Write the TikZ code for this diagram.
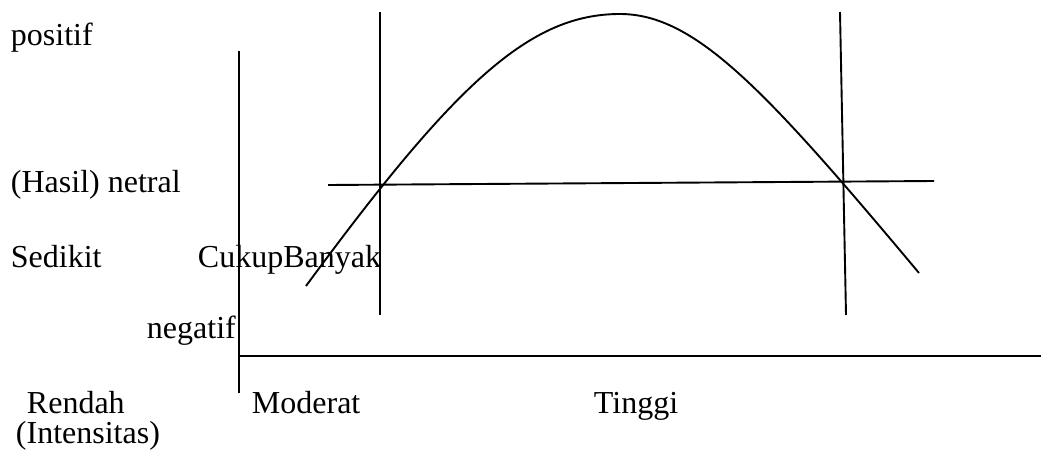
\documentclass[tikz,border=0pt]{standalone}
\usepackage{fontspec}
\setmainfont{Liberation Serif}
\usepackage{xcolor}
\usepackage{tikz}
\usetikzlibrary{positioning}

\begin{document}
\begin{tikzpicture}[x=1pt,y=-1pt,line width=1.9pt,font=\fontsize{32}{37}\selectfont]
\useasboundingbox (0,0) rectangle (1041,455);
% labels
\foreach \t/\xx/\yy/\i in {positif/10/45/1,(Hasil) netral/10/192/2,Sedikit/10/267/3,CukupBanyak/197/267/4,negatif/146/338/5,Rendah/26/413/6,(Intensitas)/15/443/7,Moderat/251/413/8,Tinggi/593/413/9}{
  \node[anchor=base west,inner sep=0pt] (lbl\i) at (\xx,\yy) {\t};
}
% axes
\coordinate (ytop) at (239,51);
\coordinate (ybot) at (239,393);
\coordinate (xleft) at (239,356);
\coordinate (xright) at (1041,356);
\draw (ytop) -- (ybot);
\draw (xleft) -- (xright);
% boundaries
\coordinate (lt) at (380,12);
\coordinate (lb) at (380,315);
\coordinate (rt) at (840,12);
\coordinate (rb) at (846,315);
\draw (lt) -- (lb);
\draw (rt) -- (rb);
\coordinate (nl) at (328,185);
\coordinate (nr) at (934,181);
\draw (nl) -- (nr);
% curve
\coordinate (cstart) at (306,286);
\coordinate (cpeak) at (620,14);
\coordinate (cend) at (919,273);
\draw (cstart) .. controls (456,82) and (530,14) .. (cpeak)
  .. controls (695,14) and (765,89) .. (cend);
\end{tikzpicture}
\end{document}
